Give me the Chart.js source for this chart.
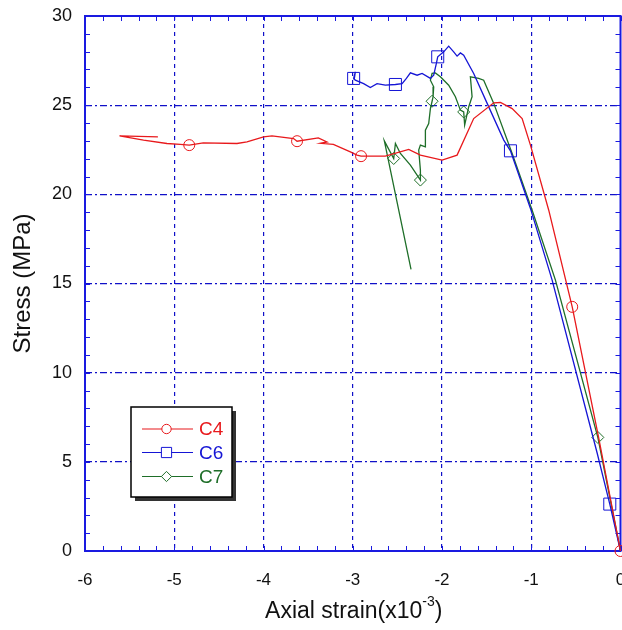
<!DOCTYPE html>
<html>
<head>
<meta charset="utf-8">
<script src="https://cdn.jsdelivr.net/npm/chart.js@4/dist/chart.umd.min.js"></script>
<style>
  html, body { margin: 0; padding: 0; background: #fff; overflow: hidden; }
  #wrap { width: 622px; height: 630px; overflow: hidden; }
</style>
</head>
<body>
<div id="wrap"><canvas id="stressChart" width="627" height="630"></canvas></div>
<script>
// Axial strain (x10^-3) vs stress (MPa)
const c4Strain = [0, -0.247, -0.541, -0.804, -1.009, -1.102, -1.214, -1.345, -1.420, -1.645, -1.831, -1.999,
  -2.242, -2.373, -2.635, -2.907, -2.952, -3.027, -3.217, -3.363, -3.288, -3.386, -3.624, -3.663, -3.905,
  -3.999, -4.185, -4.297, -4.675, -4.832, -4.933, -5.082, -5.344, -5.613, -5.183];
const c4Stress = [0, 6.41, 13.69, 19.11, 22.76, 24.25, 24.81, 25.15, 25.13, 24.25, 22.20, 21.92,
  22.20, 22.52, 22.14, 22.14, 22.20, 22.38, 22.80, 22.86, 22.94, 23.17, 22.98, 23.13, 23.28,
  23.22, 22.94, 22.85, 22.89, 22.76, 22.80, 22.85, 23.04, 23.28, 23.22];

const c6Strain = [0, -0.120, -0.261, -0.766, -1.009, -1.233, -1.308, -1.494, -1.645, -1.757, -1.794, -1.831,
  -1.869, -1.925, -1.981, -2.048, -2.063, -2.093, -2.130, -2.223, -2.279, -2.354, -2.399, -2.447, -2.522,
  -2.635, -2.728, -2.803, -2.878, -2.971, -2.990, -2.971, -2.985];
const c6Stress = [0, 2.63, 5.48, 15.19, 19.21, 22.44, 23.04, 25.10, 26.78, 27.80, 27.93, 27.75,
  27.99, 28.31, 27.99, 27.71, 27.34, 26.68, 26.50, 26.78, 26.68, 26.81, 26.50, 26.21, 26.16,
  26.12, 26.21, 25.99, 26.21, 26.40, 26.50, 26.87, 26.40];

const c7Strain = [0, -0.254, -0.729, -0.990, -1.214, -1.420, -1.533, -1.589, -1.682, -1.663, -1.701, -1.746,
  -1.757, -1.794, -1.850, -1.925, -2.018, -2.074, -2.111, -2.130, -2.093, -2.100, -2.111, -2.130, -2.149,
  -2.186, -2.186, -2.242, -2.261, -2.242, -2.242, -2.354, -2.466, -2.522, -2.541, -2.646, -2.347];
const c7Stress = [0, 6.37, 15.19, 19.11, 22.29, 25.10, 26.40, 26.50, 26.59, 25.47, 24.90, 23.88,
  24.62, 24.72, 25.47, 26.12, 26.59, 26.81, 26.78, 26.40, 26.03, 25.47, 25.22, 24.81, 23.97,
  23.60, 22.66, 22.76, 22.48, 21.36, 20.80, 21.64, 22.29, 22.85, 22.01, 23.00, 15.79];

const seriesLabels = ['C4', 'C6', 'C7'];
const xTicks = [-6, -5, -4, -3, -2, -1, 0];
const yTicks = [0, 5, 10, 15, 20, 25, 30];

// which recorded points carry a symbol
const c4Marks = [0, 2, 15, 22, 29];
const c6Marks = [1, 5, 15, 24, 30];
const c7Marks = [1, 12, 22, 30, 34];

const RED = '#e8191c', BLUE = '#1515d5', GREEN = '#1e6e28';
const GRID = '#1010c8', FRAME = '#1a1ae0';
const FONT = "'Liberation Sans', Arial, sans-serif";

function pts(xs, ys) {
  return xs.map((x, i) => ({ x: x, y: ys[i] }));
}

function markRadius(marks, r) {
  return ctx => marks.includes(ctx.dataIndex) ? r : 0;
}

const styles = [
  { color: RED, pointStyle: 'circle', radius: 5.5 },
  { color: BLUE, pointStyle: 'rect', radius: 8.5 },
  { color: GREEN, pointStyle: 'rectRot', radius: 6 }
];

const datasets = [
  [c4Strain, c4Stress, c4Marks],
  [c6Strain, c6Stress, c6Marks],
  [c7Strain, c7Stress, c7Marks]
].map((s, i) => ({
  label: seriesLabels[i],
  data: pts(s[0], s[1]),
  showLine: true,
  borderColor: styles[i].color,
  backgroundColor: 'rgba(0,0,0,0)',
  borderWidth: 1.3,
  pointStyle: styles[i].pointStyle,
  pointRadius: markRadius(s[2], styles[i].radius),
  pointBorderWidth: 1,
  pointBorderColor: styles[i].color,
  pointBackgroundColor: 'rgba(0,0,0,0)',
  tension: 0,
  clip: false
}));

// frame, inward minor ticks, axis titles and the boxed legend
const decorPlugin = {
  id: 'decor',
  beforeDatasetsDraw(chart) {
    const { ctx, chartArea: a, scales: { x, y } } = chart;
    ctx.save();
    ctx.strokeStyle = FRAME;
    ctx.lineWidth = 1;
    ctx.beginPath();
    for (let v = -6; v <= 0.001; v += 0.2) {
      const px = Math.round(x.getPixelForValue(v)) + 0.5;
      ctx.moveTo(px, a.bottom); ctx.lineTo(px, a.bottom - 5);
      ctx.moveTo(px, a.top); ctx.lineTo(px, a.top + 5);
    }
    for (let v = 0; v <= 30; v += 1) {
      const py = Math.round(y.getPixelForValue(v)) + 0.5;
      ctx.moveTo(a.left, py); ctx.lineTo(a.left + 5, py);
      ctx.moveTo(a.right, py); ctx.lineTo(a.right - 5, py);
    }
    ctx.stroke();
    ctx.lineWidth = 2;
    ctx.strokeRect(a.left, a.top, a.right - a.left, a.bottom - a.top);
    ctx.restore();
  },
  afterDraw(chart) {
    const { ctx, chartArea: a } = chart;
    ctx.save();
    ctx.fillStyle = '#111';
    // x title with superscript
    const main = 'Axial strain(x10', sup = '-3', close = ')';
    ctx.font = '23px ' + FONT;
    const w1 = ctx.measureText(main).width, w3 = ctx.measureText(close).width;
    ctx.font = '14px ' + FONT;
    const w2 = ctx.measureText(sup).width;
    let sx = (a.left + a.right) / 2 - (w1 + w2 + w3) / 2 + 1;
    const by = 618;
    ctx.textBaseline = 'alphabetic';
    ctx.textAlign = 'left';
    ctx.font = '23px ' + FONT;
    ctx.fillText(main, sx, by);
    ctx.font = '14px ' + FONT;
    ctx.fillText(sup, sx + w1, by - 12);
    ctx.font = '23px ' + FONT;
    ctx.fillText(close, sx + w1 + w2, by);
    // y title
    ctx.translate(23, (a.top + a.bottom) / 2);
    ctx.rotate(-Math.PI / 2);
    ctx.textAlign = 'center';
    ctx.textBaseline = 'middle';
    ctx.font = '24px ' + FONT;
    ctx.fillText('Stress (MPa)', 0, 0);
    ctx.restore();

    // legend box with drop shadow
    const bx = 131, byT = 407, bw = 101, bh = 90;
    ctx.save();
    ctx.fillStyle = '#333';
    ctx.fillRect(bx + 4, byT + 4, bw, bh);
    ctx.fillStyle = '#fff';
    ctx.fillRect(bx, byT, bw, bh);
    ctx.strokeStyle = '#000';
    ctx.lineWidth = 1.5;
    ctx.strokeRect(bx, byT, bw, bh);
    const rows = [429, 452.5, 476.5];
    seriesLabels.forEach((lab, i) => {
      const st = styles[i];
      ctx.strokeStyle = st.color;
      ctx.lineWidth = 1.2;
      ctx.beginPath();
      ctx.moveTo(142, rows[i]); ctx.lineTo(193, rows[i]);
      ctx.stroke();
      ctx.fillStyle = '#fff';
      ctx.lineWidth = 1;
      Chart.helpers.drawPoint(ctx, { pointStyle: st.pointStyle, radius: st.radius * 0.85, rotation: 0, borderWidth: 1 }, 166.5, rows[i]);
      ctx.fillStyle = st.color;
      ctx.font = '19px ' + FONT;
      ctx.textAlign = 'left';
      ctx.textBaseline = 'middle';
      ctx.fillText(lab, 199, rows[i] + 1);
    });
    ctx.restore();
  }
};

function gridColor(c) {
  const v = c.tick && c.tick.value;
  if (v === undefined) return 'rgba(0,0,0,0)';
  return (c.scale.axis === 'x' ? (v === -6 || v === 0) : (v === 0 || v === 30)) ? 'rgba(0,0,0,0)' : GRID;
}

new Chart(document.getElementById('stressChart'), {
  type: 'scatter',
  data: { datasets: datasets },
  options: {
    responsive: false,
    animation: false,
    layout: { padding: { left: 0, right: 2, top: 16, bottom: 0 } },
    plugins: {
      legend: { display: false },
      tooltip: { enabled: false }
    },
    scales: {
      x: {
        type: 'linear',
        min: -6,
        max: 0,
        afterBuildTicks: s => { s.ticks = xTicks.map(v => ({ value: v })); },
        afterFit: s => { s.height = 79; s.paddingLeft = 0; s.paddingRight = 0; },
        ticks: { color: '#111', font: { family: FONT, size: 17 }, padding: 19, maxRotation: 0 },
        grid: { color: gridColor, lineWidth: 1.2, drawTicks: false },
        border: { display: false, dash: [4, 4] }
      },
      y: {
        type: 'linear',
        min: 0,
        max: 30,
        afterBuildTicks: s => { s.ticks = yTicks.map(v => ({ value: v })); },
        afterFit: s => { s.width = 85; s.paddingTop = 0; s.paddingBottom = 0; },
        ticks: { color: '#111', font: { family: FONT, size: 18 }, padding: 13 },
        grid: { color: gridColor, lineWidth: 1.2, drawTicks: false },
        border: { display: false, dash: [7, 3, 2, 3] }
      }
    }
  },
  plugins: [decorPlugin]
});
</script>
</body>
</html>
